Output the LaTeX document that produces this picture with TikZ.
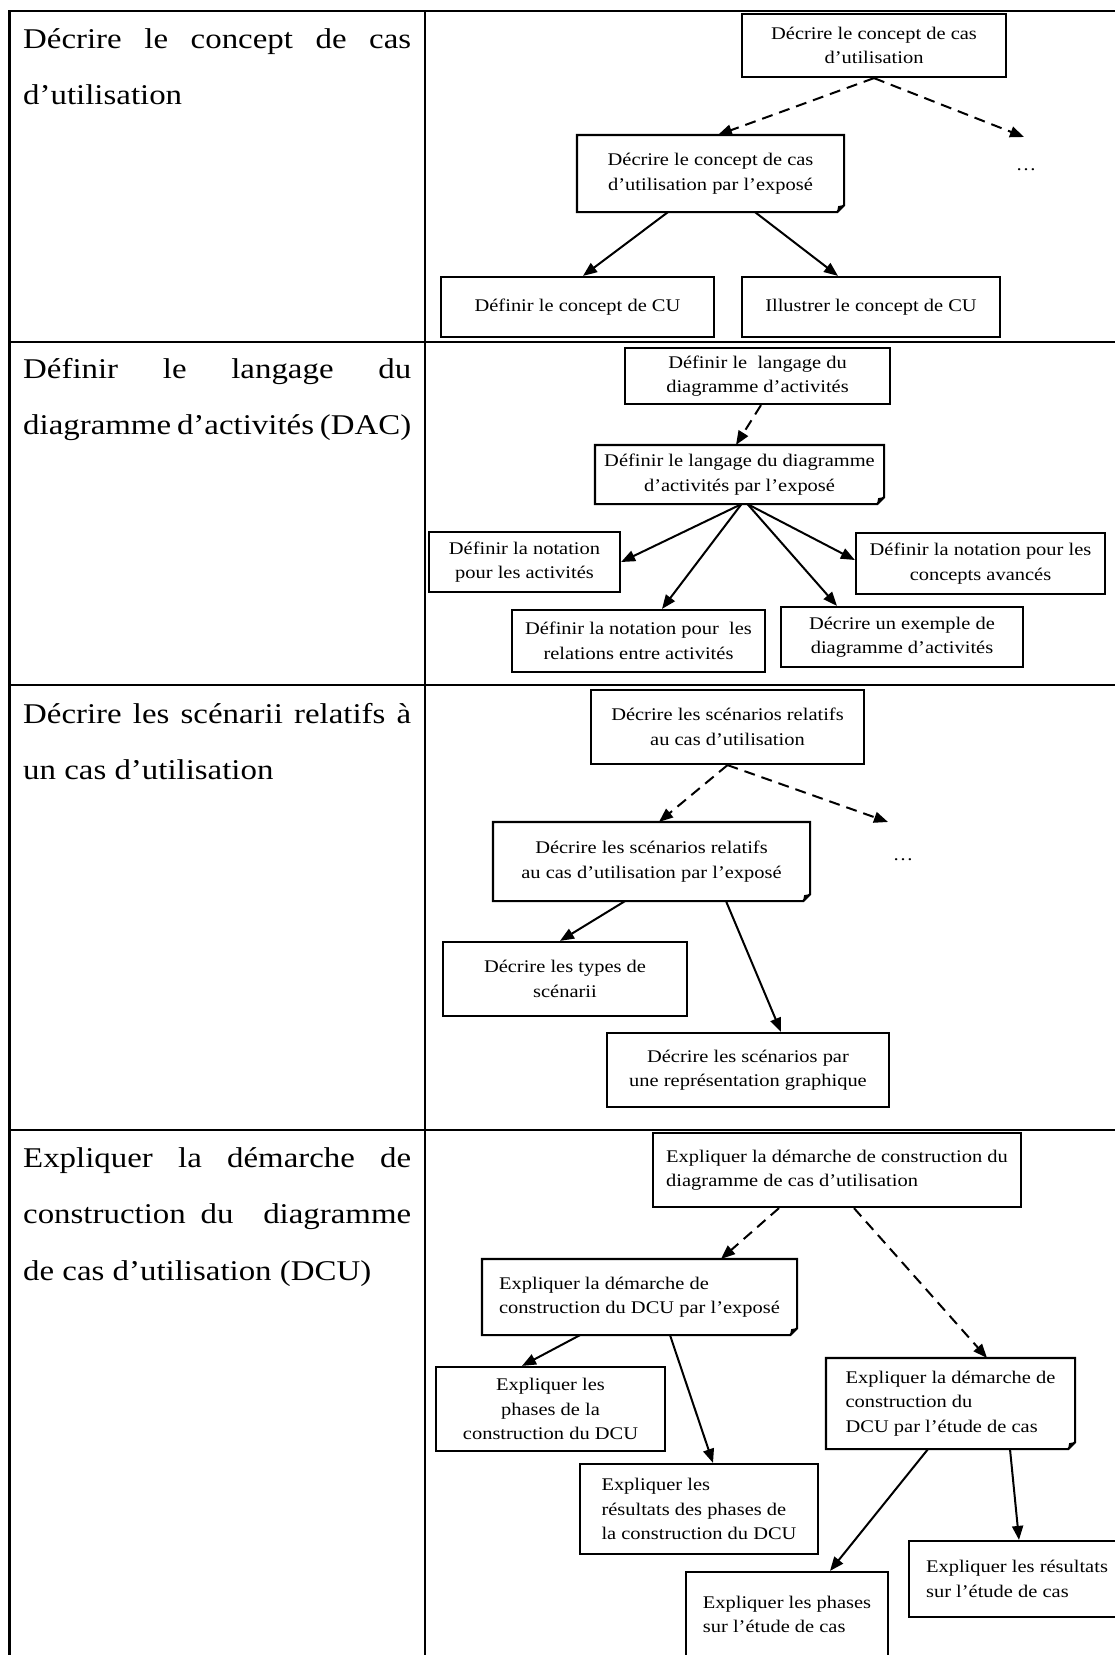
\documentclass[tikz,border=0pt]{standalone}
\usepackage{fontspec}
\setmainfont{Liberation Serif}[FakeStretch=1.15]
\usetikzlibrary{arrows.meta}

% contour d'une note avec coin plie
\newcommand{\notecoin}[1]{%
  \draw[line width=2.2pt] (#1.north west) -- (#1.north east) -- ([yshift=7pt]#1.south east)
    -- ([xshift=-7pt]#1.south east) -- (#1.south west) -- cycle;
  \fill ([yshift=7pt]#1.south east) -- ([xshift=-7pt]#1.south east) -- ([xshift=-6pt,yshift=6pt]#1.south east) -- cycle;
}

\begin{document}
\begin{tikzpicture}[x=1pt, y=-1pt,
    boite/.style={draw, line width=2.2pt, inner sep=0pt, align=center,
      font=\fontsize{17.8}{24.5}\selectfont},
    noteboite/.style={boite, draw=none},
    gauche/.style={align=left},
    cellule/.style={anchor=north west, inner sep=0pt, text width=388pt, align=justify,
      font=\fontsize{28.6}{56.5}\selectfont},
    points/.style={font=\fontsize{17.8}{24.5}\selectfont},
    fleche/.style={-{Triangle[length=14pt,width=11pt]}, line width=2pt},
    pointille/.style={fleche, dash pattern=on 11pt off 7pt}]
    \useasboundingbox (0,0) rectangle (1115,1655);

    % tableau
    \draw[line width=2.2pt] (9.5,1665) -- (9.5,11) -- (1125,11);
    \draw[line width=2.2pt] (425,11) -- (425,1665);
    \draw[line width=2.2pt] (9.5,342) -- (1125,342);
    \draw[line width=2.2pt] (9.5,685) -- (1125,685);
    \draw[line width=2.2pt] (9.5,1130) -- (1125,1130);

    \node[cellule] (L1) at (23,28) {Décrire le concept de cas\linebreak d’utilisation};
    \node[cellule] (L2) at (23,358) {Définir le langage du\linebreak diagramme d’activités (DAC)};
    \node[cellule] (L3) at (23,703) {Décrire les scénarii relatifs à\linebreak un cas d’utilisation};
    \node[cellule] (L4) at (23,1147) {Expliquer la démarche de\linebreak construction du\ \ diagramme\linebreak de cas d’utilisation (DCU)};

    % ligne 1
    \node[boite, minimum width=264, minimum height=63] (A1) at (874,45.5) {Décrire le concept de cas\\d’utilisation};
    \node[noteboite, minimum width=265, minimum height=75] (B1) at (710.5,173.5) {Décrire le concept de cas\\d’utilisation par l’exposé};
    \notecoin{B1}
    \node[points] (E1) at (1026,170) {…};
    \coordinate (F1) at (1024,137);
    \node[boite, minimum width=273, minimum height=60] (C1) at (577.5,307) {Définir le concept de CU};
    \node[boite, minimum width=258, minimum height=60] (C2) at (871,307) {Illustrer le concept de CU};
    \draw[pointille] (A1.south) -- ([xshift=7.5pt]B1.north);
    \draw[pointille] (A1.south) -- (F1);
    \draw[fleche] ([xshift=-42.5pt]B1.south) -- ([xshift=5.5pt]C1.north);
    \draw[fleche] ([xshift=44.5pt]B1.south) -- ([xshift=-33pt]C2.north);

    % ligne 2
    \node[boite, minimum width=265, minimum height=56] (A2) at (757.5,376) {Définir le\ \ langage du\\diagramme d’activités};
    \node[noteboite, minimum width=287, minimum height=57] (B2) at (739.5,474.5) {Définir le langage du diagramme\\d’activités par l’exposé};
    \notecoin{B2}
    \node[boite, minimum width=191, minimum height=60] (C21) at (524.5,562) {Définir la notation\\pour les activités};
    \node[boite, minimum width=253, minimum height=62] (C22) at (638.5,641) {Définir la notation pour\ \ les\\relations entre activités};
    \node[boite, minimum width=242, minimum height=60] (C23) at (902,637) {Décrire un exemple de\\diagramme d’activités};
    \node[boite, minimum width=249, minimum height=61] (C24) at (980.5,563.5) {Définir la notation pour les\\concepts avancés};
    \draw[pointille] ([xshift=3.5pt]A2.south) -- ([xshift=-3.5pt]B2.north);
    \draw[fleche] ([xshift=2pt]B2.south) -- (C21.east);
    \draw[fleche] ([xshift=2pt]B2.south) -- ([xshift=23.5pt]C22.north);
    \draw[fleche] ([xshift=8pt]B2.south) -- ([xshift=-65pt]C23.north);
    \draw[fleche] ([xshift=8pt]B2.south) -- ([yshift=3.5pt]C24.west);

    % ligne 3
    \node[boite, minimum width=273, minimum height=74] (A3) at (727.5,727) {Décrire les scénarios relatifs\\au cas d’utilisation};
    \node[noteboite, minimum width=315, minimum height=77] (B3) at (651.5,861.5) {Décrire les scénarios relatifs\\au cas d’utilisation par l’exposé};
    \notecoin{B3}
    \node[points] (E3) at (903,860) {…};
    \coordinate (F3) at (888,822);
    \node[boite, minimum width=244, minimum height=74] (C31) at (565,979) {Décrire les types de\\scénarii};
    \node[boite, minimum width=282, minimum height=74] (C32) at (748,1070) {Décrire les scénarios par\\une représentation graphique};
    \draw[pointille] (A3.south) -- ([xshift=7.5pt]B3.north);
    \draw[pointille] (A3.south) -- (F3);
    \draw[fleche] ([xshift=-26.5pt]B3.south) -- ([xshift=-5pt]C31.north);
    \draw[fleche] ([xshift=74.5pt]B3.south) -- ([xshift=33pt]C32.north);

    % ligne 4
    \node[boite, gauche, minimum width=368, minimum height=74] (A4) at (837,1170) {Expliquer la démarche de construction du\\diagramme de cas d’utilisation};
    \node[noteboite, gauche, minimum width=313, minimum height=74] (B4) at (639.5,1297) {Expliquer la démarche de\\construction du DCU par l’exposé};
    \notecoin{B4}
    \node[boite, minimum width=229, minimum height=84] (C41) at (550.5,1409) {Expliquer les\\phases de la\\construction du DCU};
    \node[boite, gauche, minimum width=238, minimum height=90] (C42) at (699,1509) {Expliquer les\\résultats des phases de\\la construction du DCU};
    \node[noteboite, gauche, minimum width=247, minimum height=89] (B5) at (950.5,1403.5) {Expliquer la démarche de\\construction du\\DCU par l’étude de cas};
    \notecoin{B5}
    \node[boite, gauche, minimum width=202, minimum height=85] (C43) at (787,1614.5) {Expliquer les phases\\sur l’étude de cas};
    \node[boite, gauche, minimum width=216, minimum height=76] (C44) at (1017,1579) {Expliquer les résultats\\sur l’étude de cas};
    \draw[pointille] ([xshift=-58pt]A4.south) -- ([xshift=81.5pt]B4.north);
    \draw[pointille] ([xshift=17pt]A4.south) -- ([xshift=36.5pt]B5.north);
    \draw[fleche] ([xshift=-59.5pt]B4.south) -- ([xshift=-28.5pt]C41.north);
    \draw[fleche] ([xshift=30.5pt]B4.south) -- ([xshift=14pt]C42.north);
    \draw[fleche] ([xshift=-22.5pt]B5.south) -- ([xshift=43pt]C43.north);
    \draw[fleche] ([xshift=59.5pt]B5.south) -- ([xshift=2pt]C44.north);
\end{tikzpicture}
\end{document}
